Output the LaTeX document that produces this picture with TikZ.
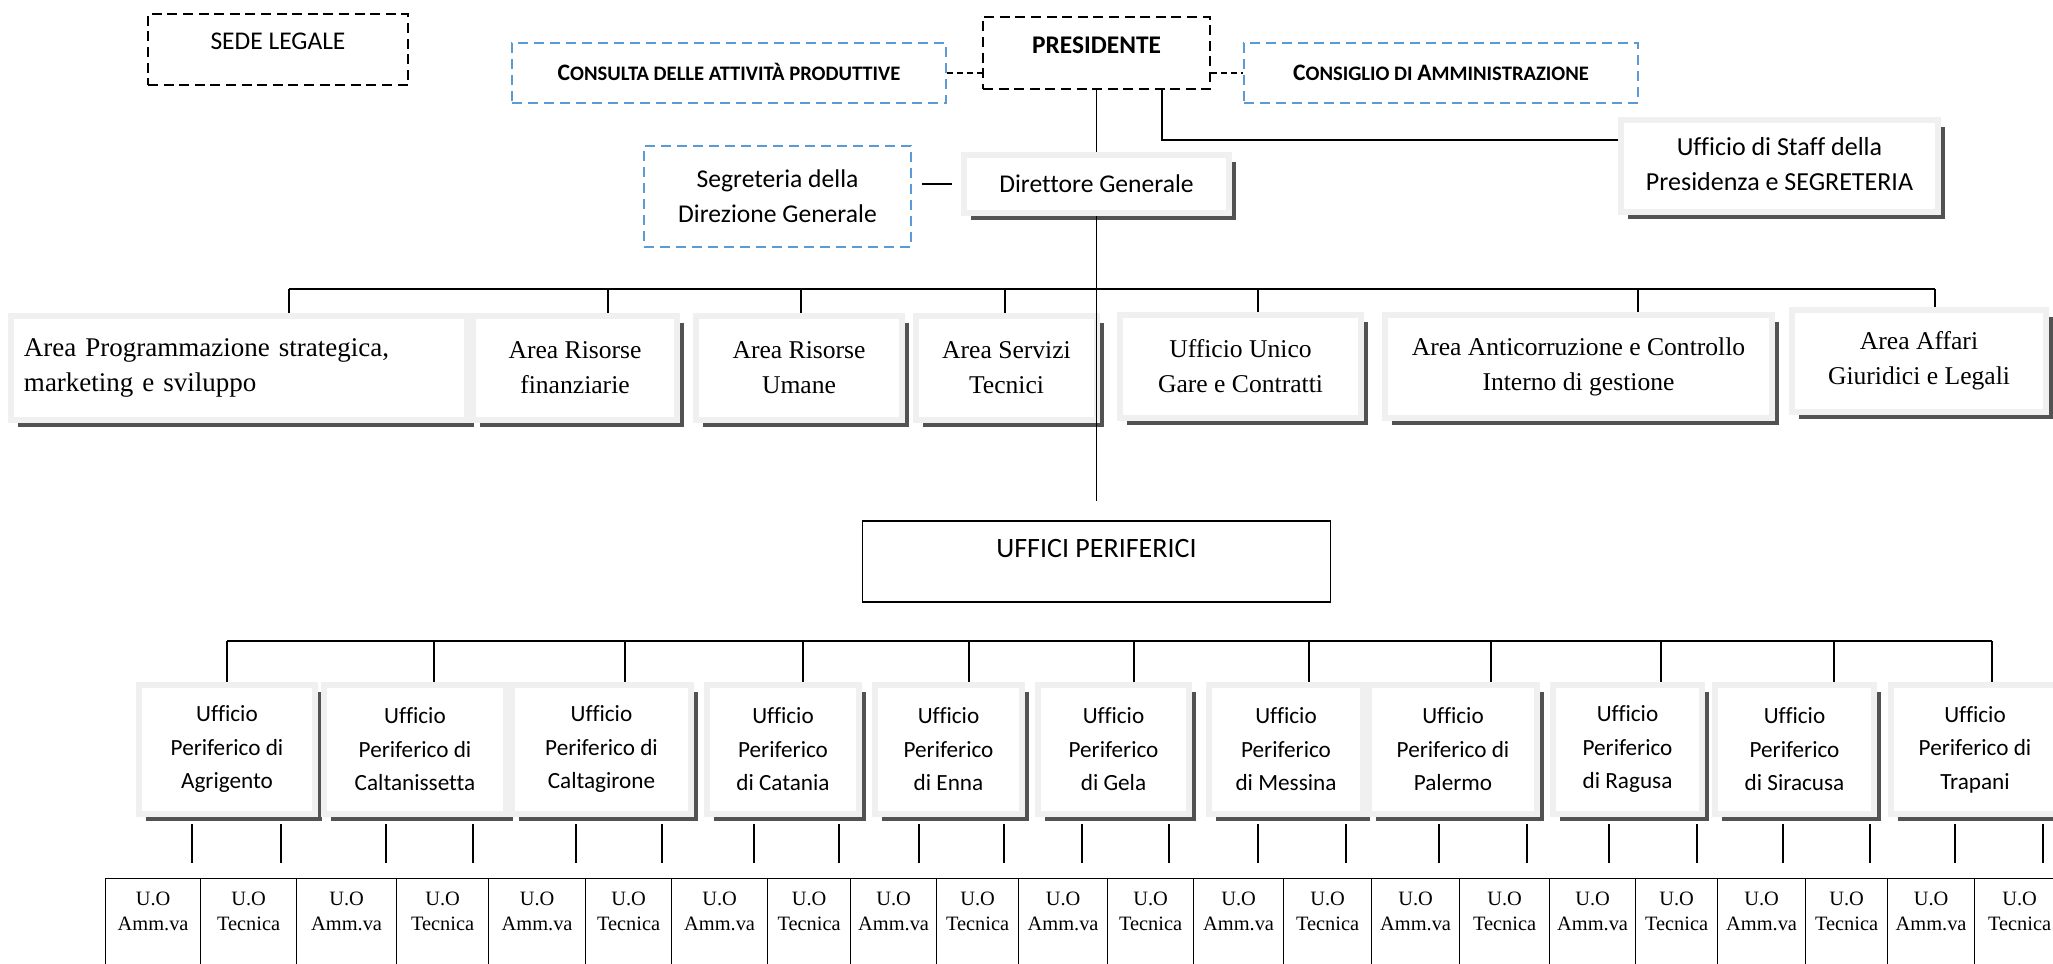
\documentclass[tikz,border=0pt]{standalone}
\usepackage{fontspec}
\setmainfont{Carlito}[Ligatures=NoCommon]
\newfontfamily\tnr{Liberation Serif}
\usetikzlibrary{shadows}
\definecolor{ltblue}{HTML}{5B9BD5}
\newcommand{\capl}[1]{{\fontsize{11.8}{12}\selectfont #1}}
\newcommand{\uo}[1]{\parbox[t][50pt][t]{38pt}{\centering U.O\\#1}}
\begin{document}
\begin{tikzpicture}[x=0.5pt,y=-0.5pt,
    blackdash/.style={draw, line width=1.3pt, dash pattern=on 5pt off 2.8pt},
    bluedash/.style={draw=ltblue, line width=1pt, dash pattern=on 5pt off 3pt},
    framebox/.style={draw=black!6, line width=3.25pt, fill=white, align=center, inner sep=0pt,
      drop shadow={shadow xshift=3.6pt, shadow yshift=-3.6pt, fill=black!68, opacity=1}},
    area/.style={framebox, font=\tnr\fontsize{12.8}{17.5}\selectfont, minimum height=52pt},
    office/.style={framebox, font=\fontsize{11.6}{16.75}\selectfont, minimum height=64.5pt},
    cell/.style={draw, line width=0.6pt, anchor=north west, inner xsep=0pt, inner ysep=6.6pt,
      font=\tnr\fontsize{10.2}{12.5}\selectfont},
    link/.style={line width=0.75pt},
    bus/.style={line width=1pt}]
  \useasboundingbox (0,0) rectangle (2053,964);
  \draw
    (278,49.5) node[blackdash, minimum width=130pt, minimum height=35.5pt, text height=9pt, text depth=9pt,
      font=\fontsize{12.75}{15}\selectfont] (sede){SEDE LEGALE}
    (729,73) node[bluedash, minimum width=217pt, minimum height=30pt, text height=7.4pt, text depth=0pt,
      font=\bfseries\fontsize{10.3}{12}\selectfont] (cons){\capl{C}ONSULTA DELLE ATTIVITÀ PRODUTTIVE}
    (1096.5,53) node[blackdash, minimum width=113.5pt, minimum height=36pt, text height=9pt, text depth=9pt,
      font=\bfseries\fontsize{12.7}{15}\selectfont] (pres){PRESIDENTE}
    (1441,73) node[bluedash, minimum width=197pt, minimum height=30pt, text height=7.4pt, text depth=0pt,
      font=\bfseries\fontsize{10.3}{12}\selectfont] (consi){\capl{C}ONSIGLIO DI \capl{A}MMINISTRAZIONE}
    (1779.5,166) node[framebox, minimum width=158.5pt, minimum height=46pt, text depth=2pt,
      font=\fontsize{13}{17.5}\selectfont] (staff){Ufficio di Staff della\\Presidenza e SEGRETERIA}
    (1096.5,184) node[framebox, minimum width=132.5pt, minimum height=29pt,
      font=\fontsize{12.8}{17.5}\selectfont] (dir){Direttore Generale}
    (777.5,196.5) node[bluedash, minimum width=133.5pt, minimum height=50.5pt, align=center,
      font=\fontsize{12.8}{17.5}\selectfont] (seg){Segreteria della\\Direzione Generale}
    (1096.5,561.5) node[draw, line width=0.75pt, minimum width=234pt, minimum height=40.5pt, inner sep=0pt,
      text height=10pt, text depth=14.5pt, font=\fontsize{14}{16}\selectfont] (uff){UFFICI PERIFERICI};
  \draw
    (239,368) node[area, minimum width=228pt, align=left, text width=215pt,
      font=\tnr\fontsize{13.5}{17.5}\selectfont] (a1){Area Programmazione strategica,\\marketing e sviluppo}
    (575,368) node[area, minimum width=102pt] (a2){Area Risorse\\finanziarie}
    (799,368) node[area, minimum width=103pt] (a3){Area Risorse\\Umane}
    (1006.5,368) node[area, minimum width=90.5pt] (a4){Area Servizi\\Tecnici}
    (1240.5,366.5) node[area, minimum width=120.5pt, minimum height=51.5pt] (a5){Ufficio Unico\\Gare e Contratti}
    (1578.5,366.5) node[area, minimum width=193.5pt, minimum height=51.5pt] (a6){Area Anticorruzione e Controllo\\Interno di gestione}
    (1919,361) node[area, minimum width=127pt, minimum height=51pt] (a7){Area Affari\\Giuridici e Legali};
  \draw
    (227,749.5) node[office, minimum width=88pt] (agr){Ufficio\\Periferico di\\Agrigento}
    (415,749.5) node[office, minimum width=91pt] (cls){Ufficio\\Periferico di\\Caltanissetta}
    (601.5,749.5) node[office, minimum width=89.5pt] (cal){Ufficio\\Periferico di\\Caltagirone}
    (783,749.5) node[office, minimum width=76pt] (cat){Ufficio\\Periferico\\di Catania}
    (948.5,749.5) node[office, minimum width=73.5pt] (enn){Ufficio\\Periferico\\di Enna}
    (1113.5,749.5) node[office, minimum width=75.5pt] (gel){Ufficio\\Periferico\\di Gela}
    (1286,749.5) node[office, minimum width=77pt] (mes){Ufficio\\Periferico\\di Messina}
    (1453,749.5) node[office, minimum width=84pt] (pal){Ufficio\\Periferico di\\Palermo}
    (1627.5,749.5) node[office, minimum width=74.5pt] (rag){Ufficio\\Periferico\\di Ragusa}
    (1794.5,749.5) node[office, minimum width=79.5pt] (sir){Ufficio\\Periferico\\di Siracusa}
    (1975,749.5) node[office, minimum width=84pt] (tra){Ufficio\\Periferico di\\Trapani};
  \draw
    (105,878) node[cell, minimum width=47.5pt] (c1){\uo{Amm.va}}
    (200,878) node[cell, minimum width=48pt] (c2){\uo{Tecnica}}
    (296,878) node[cell, minimum width=50pt] (c3){\uo{Amm.va}}
    (396,878) node[cell, minimum width=46pt] (c4){\uo{Tecnica}}
    (488,878) node[cell, minimum width=48.5pt] (c5){\uo{Amm.va}}
    (585,878) node[cell, minimum width=43pt] (c6){\uo{Tecnica}}
    (671,878) node[cell, minimum width=48pt] (c7){\uo{Amm.va}}
    (767,878) node[cell, minimum width=41.5pt] (c8){\uo{Tecnica}}
    (850,878) node[cell, minimum width=43pt] (c9){\uo{Amm.va}}
    (936,878) node[cell, minimum width=41pt] (c10){\uo{Tecnica}}
    (1018,878) node[cell, minimum width=44.5pt] (c11){\uo{Amm.va}}
    (1107,878) node[cell, minimum width=43pt] (c12){\uo{Tecnica}}
    (1193,878) node[cell, minimum width=45pt] (c13){\uo{Amm.va}}
    (1283,878) node[cell, minimum width=44pt] (c14){\uo{Tecnica}}
    (1371,878) node[cell, minimum width=44pt] (c15){\uo{Amm.va}}
    (1459,878) node[cell, minimum width=45pt] (c16){\uo{Tecnica}}
    (1549,878) node[cell, minimum width=43pt] (c17){\uo{Amm.va}}
    (1635,878) node[cell, minimum width=41pt] (c18){\uo{Tecnica}}
    (1717,878) node[cell, minimum width=44pt] (c19){\uo{Amm.va}}
    (1805,878) node[cell, minimum width=41pt] (c20){\uo{Tecnica}}
    (1887,878) node[cell, minimum width=43.5pt] (c21){\uo{Amm.va}}
    (1974,878) node[cell, minimum width=45pt] (c22){\uo{Tecnica}};
  \coordinate (s1) at (289,289);
  \coordinate (s2) at (608,289);
  \coordinate (s3) at (801,289);
  \coordinate (s4) at (1005,289);
  \coordinate (s5) at (1258,289);
  \coordinate (s6) at (1638,289);
  \coordinate (s7) at (1935,289);
  \coordinate (t1) at (227,641);
  \coordinate (t2) at (434,641);
  \coordinate (t3) at (625,641);
  \coordinate (t4) at (803,641);
  \coordinate (t5) at (969,641);
  \coordinate (t6) at (1134,641);
  \coordinate (t7) at (1309,641);
  \coordinate (t8) at (1491,641);
  \coordinate (t9) at (1661,641);
  \coordinate (t10) at (1834,641);
  \coordinate (t11) at (1992,641);
  \begin{scope}[link]
    \draw[dash pattern=on 3pt off 2pt] (cons.east) to (cons.east -| pres.west);
    \draw[dash pattern=on 3pt off 2pt] (consi.west -| pres.east) to (consi.west);
    \draw (pres.south) to (dir.north);
    \draw ([xshift=32.75pt]pres.south) |- ([yshift=13pt]staff.west);
    \draw[shorten <=5pt, shorten >=4.5pt] (seg.east |- dir.west) to (dir.west);
    \draw[shorten >=9.5pt] (dir.south) to (uff.north);
    \draw[bus] (s1) to (s7);
    \draw (s1) to (s1 |- a1.north);
    \draw (s2) to (s2 |- a2.north);
    \draw (s3) to (s3 |- a3.north);
    \draw (s4) to (s4 |- a4.north);
    \draw (s5) to (s5 |- a5.north);
    \draw (s6) to (s6 |- a6.north);
    \draw (s7) to (s7 |- a7.north);
    \draw[bus] (t1) to (t11);
    \draw (t1) to (t1 |- agr.north);
    \draw (t2) to (t2 |- cls.north);
    \draw (t3) to (t3 |- cal.north);
    \draw (t4) to (t4 |- cat.north);
    \draw (t5) to (t5 |- enn.north);
    \draw (t6) to (t6 |- gel.north);
    \draw (t7) to (t7 |- mes.north);
    \draw (t8) to (t8 |- pal.north);
    \draw (t9) to (t9 |- rag.north);
    \draw (t10) to (t10 |- sir.north);
    \draw (t11) to (t11 |- tra.north);
  \end{scope}
  \begin{scope}[link, shorten <=3.5pt, shorten >=7.5pt]
    \draw (192,0 |- agr.south) to (192,0 |- c1.north);
    \draw (281,0 |- agr.south) to (281,0 |- c2.north);
    \draw (386,0 |- cls.south) to (386,0 |- c3.north);
    \draw (473,0 |- cls.south) to (473,0 |- c4.north);
    \draw (576,0 |- cal.south) to (576,0 |- c5.north);
    \draw (662,0 |- cal.south) to (662,0 |- c6.north);
    \draw (754,0 |- cat.south) to (754,0 |- c7.north);
    \draw (839,0 |- cat.south) to (839,0 |- c8.north);
    \draw (919,0 |- enn.south) to (919,0 |- c9.north);
    \draw (1004,0 |- enn.south) to (1004,0 |- c10.north);
    \draw (1082,0 |- gel.south) to (1082,0 |- c11.north);
    \draw (1169,0 |- gel.south) to (1169,0 |- c12.north);
    \draw (1258,0 |- mes.south) to (1258,0 |- c13.north);
    \draw (1346,0 |- mes.south) to (1346,0 |- c14.north);
    \draw (1439,0 |- pal.south) to (1439,0 |- c15.north);
    \draw (1527,0 |- pal.south) to (1527,0 |- c16.north);
    \draw (1609,0 |- rag.south) to (1609,0 |- c17.north);
    \draw (1697,0 |- rag.south) to (1697,0 |- c18.north);
    \draw (1783,0 |- sir.south) to (1783,0 |- c19.north);
    \draw (1870,0 |- sir.south) to (1870,0 |- c20.north);
    \draw (1955,0 |- tra.south) to (1955,0 |- c21.north);
    \draw (2043,0 |- tra.south) to (2043,0 |- c22.north);
  \end{scope}
\end{tikzpicture}
\end{document}
